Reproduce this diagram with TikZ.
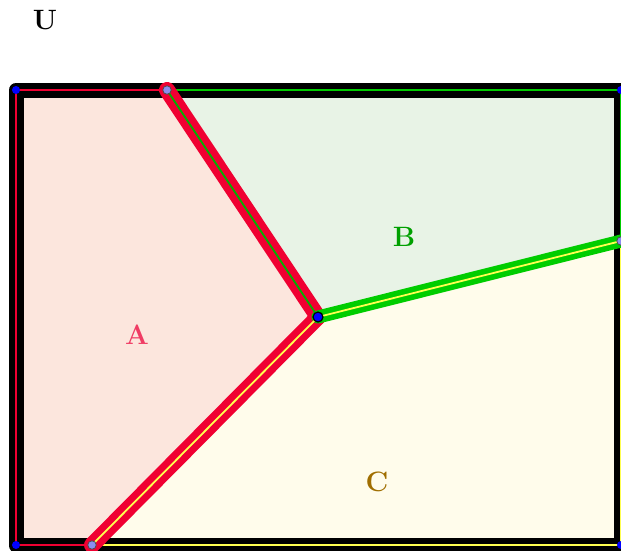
\documentclass[tikz,border=0pt]{standalone}
\usetikzlibrary{calc}
\definecolor{fillA}{RGB}{252,230,221}
\definecolor{fillB}{RGB}{232,243,230}
\definecolor{fillC}{RGB}{255,252,235}
\definecolor{redE}{RGB}{240,0,50}
\definecolor{greenE}{RGB}{0,205,0}
\definecolor{yellowE}{RGB}{255,255,80}
\definecolor{txtA}{RGB}{240,60,100}
\definecolor{txtB}{RGB}{0,160,0}
\definecolor{txtC}{RGB}{160,110,0}
\definecolor{lav}{RGB}{140,140,240}
\tikzset{
  border/.style={line width=15pt, line join=round, line cap=round, black},
  thinedge/.style={line width=1.8pt},
  wideedge/.style={line width=16pt, line cap=round},
  corner/.style={circle, fill=blue, inner sep=0pt, minimum size=8pt},
  joint/.style={circle, fill=blue, draw=black, line width=1.2pt, inner sep=0pt, minimum size=10pt},
  endpt/.style={circle, fill=lav, draw=black!70, line width=0.8pt, inner sep=0pt, minimum size=8.5pt},
  lbl/.style={font=\fontsize{28}{30}\selectfont\bfseries}
}
\begin{document}
\begin{tikzpicture}[x=1pt,y=-1pt]
\useasboundingbox (0,0) rectangle (621,550);
\coordinate (TL) at (16,90);
\coordinate (TR) at (621,90);
\coordinate (BL) at (16,545);
\coordinate (BR) at (621,545);
\coordinate (P) at (167,90);
\coordinate (Q) at (92,545);
\coordinate (R) at (621,241);
\coordinate (M) at (318,317);
% fills
\fill[fillA] (TL) -- (P) -- (M) -- (Q) -- (BL) -- cycle;
\fill[fillB] (P) -- (TR) -- (R) -- (M) -- cycle;
\fill[fillC] (M) -- (R) -- (BR) -- (Q) -- cycle;
% outer border
\draw[border] (TL) -- (TR) -- (BR) -- (BL) -- cycle;
\draw[thinedge, redE] (Q) -- (BL) -- (TL) -- (P);
\draw[thinedge, green!80!black] (P) -- (TR) -- (R);
\draw[thinedge, yellowE] (R) -- (BR) -- (Q);
% inner edges
\draw[wideedge, redE] (P) -- (M);
\draw[wideedge, redE] (M) -- (Q);
\draw[line width=13pt, line cap=round, greenE] (M) -- (R);
\draw[thinedge, green!70!black] (P) -- (M);
\draw[thinedge, yellowE] (M) -- (Q);
\draw[thinedge, yellowE] (M) -- (R);
% vertices
\node[corner] (vTL) at (TL) {};
\node[corner] (vTR) at (TR) {};
\node[corner] (vBL) at (BL) {};
\node[corner] (vBR) at (BR) {};
\node[endpt] (vP) at (P) {};
\node[endpt] (vQ) at (Q) {};
\node[endpt] (vR) at (R) {};
\node[joint] (vM) at (M) {};
% labels
\node[lbl, text=txtA] (lA) at (137,335) {A};
\node[lbl, text=txtB] (lB) at (404,237) {B};
\node[lbl, text=txtC] (lC) at (377,482) {C};
\node[lbl, black] (lU) at (45,20) {U};
\end{tikzpicture}
\end{document}
